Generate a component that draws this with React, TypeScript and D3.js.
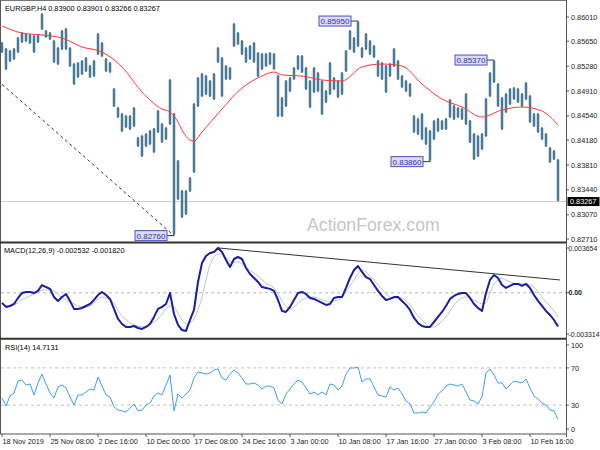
import React from 'react';
import * as d3 from 'd3';

// ---- price bars (H4, compressed) ----
const highs = [
  0.85638, 0.85549, 0.85520, 0.85549, 0.85713, 0.85787, 0.85772, 0.85757, 0.85743, 0.85757,
  0.86069, 0.85817, 0.85787, 0.85668, 0.85564, 0.85817, 0.85847, 0.85564, 0.85326, 0.85341,
  0.85371, 0.85416, 0.85297, 0.85371, 0.85772, 0.85638, 0.85401, 0.85341, 0.84954, 0.84672,
  0.84582, 0.84553, 0.84553, 0.84672, 0.84226, 0.84256, 0.84285, 0.84330, 0.84360, 0.84627,
  0.84434, 0.84375, 0.85088, 0.84582, 0.83884, 0.83438, 0.83438, 0.83631, 0.84731, 0.85118,
  0.85177, 0.85148, 0.85073, 0.85177, 0.85564, 0.85416, 0.85297, 0.85267, 0.85921, 0.85787,
  0.85668, 0.85564, 0.85594, 0.85638, 0.85490, 0.85475, 0.85475, 0.85490, 0.85475, 0.85148,
  0.84821, 0.85073, 0.85118, 0.85267, 0.85446, 0.85446, 0.85267, 0.85073, 0.85267, 0.85192,
  0.85073, 0.84925, 0.85341, 0.85118, 0.85073, 0.85192, 0.85520, 0.85817, 0.85713, 0.85950,
  0.85564, 0.85772, 0.85668, 0.85594, 0.85371, 0.85341, 0.85297, 0.85326, 0.85549, 0.85371,
  0.85148, 0.85073, 0.85028, 0.84553, 0.84508, 0.84582, 0.84375, 0.84330, 0.84479, 0.84508,
  0.84479, 0.84508, 0.84791, 0.84702, 0.84672, 0.84657, 0.84880, 0.84479, 0.84285, 0.84256,
  0.84285, 0.84806, 0.85192, 0.85370, 0.85028, 0.84821, 0.84880, 0.84954, 0.84969, 0.84954,
  0.84880, 0.85043, 0.84851, 0.84582, 0.84582, 0.84375, 0.84285, 0.84077, 0.84033, 0.83901,
];
const lows = [
  0.85475, 0.85222, 0.85341, 0.85371, 0.85475, 0.85623, 0.85638, 0.85609, 0.85475, 0.85623,
  0.85817, 0.85698, 0.85668, 0.85326, 0.85297, 0.85520, 0.85520, 0.85267, 0.84999, 0.85103,
  0.85148, 0.85192, 0.85103, 0.85118, 0.85446, 0.85416, 0.85192, 0.85177, 0.84672, 0.84508,
  0.84300, 0.84360, 0.84330, 0.84375, 0.84077, 0.83929, 0.84077, 0.84107, 0.83988, 0.84285,
  0.84136, 0.84181, 0.84405, 0.82760, 0.83289, 0.83022, 0.83066, 0.83408, 0.83690, 0.84672,
  0.84821, 0.84851, 0.84821, 0.84776, 0.85326, 0.84821, 0.85073, 0.85073, 0.85564, 0.85594,
  0.85446, 0.85326, 0.85371, 0.85326, 0.85118, 0.85222, 0.85267, 0.85297, 0.85222, 0.84523,
  0.84523, 0.84672, 0.84895, 0.85073, 0.85222, 0.85177, 0.84925, 0.84657, 0.84880, 0.84895,
  0.84553, 0.84731, 0.84851, 0.84925, 0.84806, 0.84851, 0.85192, 0.85520, 0.85475, 0.85564,
  0.85401, 0.85520, 0.85446, 0.85401, 0.85118, 0.85073, 0.84880, 0.85118, 0.85267, 0.85073,
  0.84954, 0.84895, 0.84821, 0.84285, 0.84256, 0.84181, 0.84107, 0.83860, 0.84181, 0.84300,
  0.84330, 0.84330, 0.84508, 0.84479, 0.84508, 0.84479, 0.84405, 0.84136, 0.83884, 0.83929,
  0.84033, 0.84226, 0.84821, 0.85028, 0.84672, 0.84330, 0.84582, 0.84702, 0.84776, 0.84731,
  0.84672, 0.84776, 0.84434, 0.84375, 0.84285, 0.84181, 0.84077, 0.83839, 0.83884, 0.83266,
];

// ---- moving average (read at selected bars) ----
const maIdx = [0, 5, 10, 15, 20, 25, 30, 35, 40, 42, 44, 45, 47, 48, 50, 55, 60, 65, 68, 70, 75, 80, 85, 90, 95, 100, 105, 110, 115, 120, 125, 130, 135, 139];
const maVal = [0.85877, 0.85772, 0.85743, 0.85698, 0.85564, 0.85490, 0.85267, 0.84895, 0.84642, 0.84597, 0.84449, 0.84330, 0.84181, 0.84166, 0.84300, 0.84642, 0.84954, 0.85133, 0.85192, 0.85148, 0.85133, 0.85073, 0.85058, 0.85267, 0.85311, 0.85282, 0.85013, 0.84791, 0.84672, 0.84523, 0.84627, 0.84672, 0.84612, 0.84405];

// ---- MACD(12,26,9) ----
const macdMain = [
  -0.00076, -0.00106, -0.00099, -0.00084, -0.00039, -0.00002, 0.00006, 0.00006, -0.00002, 0.00014,
  0.00058, 0.00043, 0.00029, -0.00032, -0.00061, -0.00032, -0.00009, -0.00061, -0.00121, -0.00121,
  -0.00114, -0.00099, -0.00084, -0.00054, -0.00017, 0.00006, -0.00017, -0.00046, -0.00121, -0.00196,
  -0.00234, -0.00256, -0.00256, -0.00249, -0.00264, -0.00271, -0.00256, -0.00234, -0.00181, -0.00121,
  -0.00106, -0.00084, -0.00002, -0.00159, -0.00241, -0.00279, -0.00286, -0.00204, -0.00129, 0.00081,
  0.00223, 0.00276, 0.00298, 0.00306, 0.00336, 0.00306, 0.00246, 0.00193, 0.00253, 0.00268,
  0.00253, 0.00186, 0.00141, 0.00111, 0.00081, 0.00043, 0.00036, 0.00029, 0.00014, -0.00054,
  -0.00136, -0.00144, -0.00106, -0.00054, -0.00002, 0.00006, -0.00009, -0.00039, -0.00046, -0.00061,
  -0.00076, -0.00091, -0.00084, -0.00039, -0.00032, -0.00032, 0.00036, 0.00111, 0.00171, 0.00201,
  0.00156, 0.00118, 0.00103, 0.00058, 0.00014, -0.00024, -0.00054, -0.00046, -0.00032, -0.00032,
  -0.00061, -0.00091, -0.00129, -0.00189, -0.00226, -0.00249, -0.00256, -0.00256, -0.00219, -0.00181,
  -0.00144, -0.00099, -0.00046, -0.00024, -0.00009, -0.00002, -0.00002, -0.00039, -0.00084, -0.00114,
  -0.00136, -0.00002, 0.00096, 0.00133, 0.00111, 0.00058, 0.00036, 0.00051, 0.00066, 0.00066,
  0.00051, 0.00066, 0.00036, -0.00017, -0.00061, -0.00099, -0.00136, -0.00166, -0.00204, -0.002532,
];
const macdSignal = [
  -0.00084, -0.00099, -0.00099, -0.00091, -0.00076, -0.00054, -0.00039, -0.00024, -0.00009, 0.00006,
  0.00021, 0.00021, 0.00021, 0.00013, -0.00009, -0.00039, -0.00054, -0.00069, -0.00084, -0.00099,
  -0.00106, -0.00106, -0.00099, -0.00076, -0.00046, -0.00032, -0.00039, -0.00054, -0.00076, -0.00129,
  -0.00174, -0.00204, -0.00226, -0.00241, -0.00249, -0.00256, -0.00249, -0.00234, -0.00219, -0.00196,
  -0.00159, -0.00121, -0.00099, -0.00106, -0.00151, -0.00204, -0.00234, -0.00226, -0.00196, -0.00129,
  -0.00032, 0.00096, 0.00208, 0.00268, 0.00291, 0.00291, 0.00261, 0.00238, 0.00231, 0.00231,
  0.00216, 0.00193, 0.00171, 0.00148, 0.00126, 0.00096, 0.00073, 0.00058, 0.00036, -0.00009,
  -0.00061, -0.00099, -0.00121, -0.00106, -0.00076, -0.00054, -0.00039, -0.00032, -0.00032, -0.00039,
  -0.00054, -0.00061, -0.00069, -0.00061, -0.00054, -0.00032, 0.00006, 0.00051, 0.00096, 0.00141,
  0.00171, 0.00156, 0.00126, 0.00096, 0.00058, 0.00029, -0.00009, -0.00032, -0.00039, -0.00039,
  -0.00039, -0.00061, -0.00091, -0.00136, -0.00174, -0.00204, -0.00234, -0.00256, -0.00256, -0.00241,
  -0.00211, -0.00181, -0.00136, -0.00091, -0.00061, -0.00039, -0.00032, -0.00039, -0.00054, -0.00069,
  -0.00084, -0.00076, -0.00002, 0.00066, 0.00096, 0.00111, 0.00096, 0.00081, 0.00073, 0.00066,
  0.00066, 0.00066, 0.00058, 0.00043, 0.00006, -0.00032, -0.00069, -0.00099, -0.00136, -0.00182,
];

// ---- RSI(14) ----
const rsi = [
  37.6, 29.0, 39.8, 43.0, 55.9, 57.0, 51.6, 52.7, 40.9, 53.8,
  63.4, 52.7, 43.0, 37.6, 49.5, 51.6, 48.4, 38.7, 30.1, 40.9,
  40.9, 44.1, 47.3, 46.2, 60.2, 50.5, 40.9, 38.7, 28.0, 24.7,
  23.7, 22.6, 26.9, 31.2, 23.7, 24.7, 30.1, 32.3, 39.8, 43.0,
  40.9, 51.6, 62.4, 23.7, 41.9, 37.6, 41.9, 46.2, 59.1, 65.6,
  64.5, 63.4, 64.5, 67.7, 68.8, 59.1, 57.0, 63.4, 67.7, 64.5,
  59.1, 52.7, 52.7, 53.8, 51.6, 47.3, 50.5, 50.5, 48.4, 35.5,
  31.2, 41.9, 47.3, 52.7, 57.0, 54.8, 48.4, 41.9, 44.1, 40.9,
  44.1, 40.9, 52.7, 51.6, 46.2, 50.5, 63.4, 69.9, 69.9, 71.0,
  54.8, 58.1, 58.1, 49.5, 40.9, 39.8, 38.7, 49.5, 46.2, 48.4,
  41.9, 34.4, 31.2, 21.5, 21.5, 22.6, 21.5, 28.0, 33.3, 41.9,
  45.2, 50.5, 52.7, 51.6, 50.5, 52.7, 44.1, 35.5, 34.4, 31.2,
  38.7, 64.5, 68.8, 62.4, 53.8, 53.8, 47.3, 51.6, 55.9, 54.8,
  53.8, 58.1, 48.4, 39.8, 36.6, 32.3, 30.1, 24.7, 23.7, 14.7131,
];

// ---- axes ----
const timeLabels = ['18 Nov 2019', '25 Nov 08:00', '2 Dec 16:00', '10 Dec 00:00', '17 Dec 08:00', '24 Dec 16:00', '3 Jan 00:00', '10 Jan 08:00', '17 Jan 16:00', '27 Jan 00:00', '3 Feb 08:00', '10 Feb 16:00'];
const barsPerLabel = 12;
const priceTicks = [0.8601, 0.8565, 0.8528, 0.8491, 0.8454, 0.8418, 0.8381, 0.8344, 0.8307, 0.8271];
const macdTicks = [0.003654, 0, -0.003314];
const macdTickLabels = ['0.003654', '0.00', '-0.003314'];
const rsiTicks = [100, 70, 30, 0];
const rsiLevels = [70, 30];

// ---- annotations ----
const peakIdx = [43, 89, 107, 123];
const peakPrice = [0.8276, 0.8595, 0.8386, 0.8537];
const mainTrend = [[0, 0.8501], [43, 0.8276]];
const macdTrend = [[54, 0.00336], [139.5, 0.00096]];
const lastPrice = 0.83267;
const ohlc = [0.839, 0.83901, 0.83266, 0.83267];

const FONT = "'Liberation Sans', Arial, sans-serif";

export default function App() {
  const W = 600, H = 450;
  const L = 1, R = 566;
  const mainTop = 1, mainBot = 241;
  const macdTop = 243.5, macdBot = 338;
  const rsiTop = 339.5, rsiBot = 434;

  const x = d3.scaleLinear().domain([0, 139]).range([2, 558]);
  const yP = d3.scaleLinear().domain([0.8271, 0.8601]).range([239, 17]);
  const yM = d3.scaleLinear().domain([-0.003314, 0.003654]).range([337, 244]);
  const yR = d3.scaleLinear().domain([0, 100]).range([433, 340]);

  const maLine = d3.line<number>().x((_, k) => x(maIdx[k])).y(d => yP(d)).curve(d3.curveMonotoneX)(maVal) || '';
  const macdLine = d3.line<number>().x((_, i) => x(i)).y(d => yM(d))(macdMain) || '';
  const sigLine = d3.line<number>().x((_, i) => x(i)).y(d => yM(d)).curve(d3.curveMonotoneX)(macdSignal) || '';
  const rsiLine = d3.line<number>().x((_, i) => x(i)).y(d => yR(d))(rsi) || '';

  const fmt5 = d3.format('.5f');
  const small = 7.3;

  return (
    <svg width={W} height={H} style={{ position: 'absolute', left: 0, top: 0, background: '#fff' }} fontFamily={FONT}>
      <defs>
        <clipPath id="cMain"><rect x={L} y={mainTop} width={R - L} height={mainBot - mainTop} /></clipPath>
        <clipPath id="cMacd"><rect x={L} y={macdTop} width={R - L} height={macdBot - macdTop} /></clipPath>
        <clipPath id="cRsi"><rect x={L} y={rsiTop} width={R - L} height={rsiBot - rsiTop} /></clipPath>
      </defs>
      <rect x={0} y={0} width={W} height={H} fill="#fff" />

      {/* ===== main panel ===== */}
      <g clipPath="url(#cMain)">
        <line x1={L} x2={R} y1={yP(lastPrice)} y2={yP(lastPrice)} stroke="#cfcfcf" strokeWidth={1} />
        <text x={307} y={231} fontSize={17.7} fill="#c6c6c6">ActionForex.com</text>
        <line x1={x(mainTrend[0][0])} y1={yP(mainTrend[0][1])} x2={x(mainTrend[1][0])} y2={yP(mainTrend[1][1])}
          stroke="#333" strokeWidth={1} strokeDasharray="3,3" />
        {highs.map((h, i) => (
          <rect key={'b' + i} x={x(i) - 1.4} y={yP(h) + 1} width={2.8} height={Math.max(1, yP(lows[i]) - yP(h) - 2)} fill="#89aabe" />
        ))}
        {highs.map((h, i) => (
          <line key={'l' + i} x1={x(i)} x2={x(i)} y1={yP(h)} y2={yP(lows[i])} stroke="#2a5f7c" strokeWidth={1.3} />
        ))}
        <path d={maLine} fill="none" stroke="#ff3b3b" strokeWidth={1} />
        {peakIdx.map((pi, k) => {
          const px = x(pi), py = yP(peakPrice[k]);
          const bw = 32, bh = 10, bx = px - 7 - bw;
          return (
            <g key={'pk' + k}>
              <line x1={bx + bw} x2={px} y1={py} y2={py} stroke="#2b2b8f" strokeWidth={1} />
              <rect x={bx} y={py - bh / 2} width={bw} height={bh} fill="#dcdcf6" stroke="#5050c0" strokeWidth={1} />
              <text x={bx + bw / 2} y={py + 3} fontSize={8} textAnchor="middle" fill="#3030a8">{fmt5(peakPrice[k])}</text>
            </g>
          );
        })}
      </g>
      <text x={5} y={11} fontSize={small} fill="#000">
        {'EURGBP,H4  ' + ohlc.map(v => fmt5(v)).join(' ')}
      </text>

      {/* ===== MACD panel ===== */}
      <g clipPath="url(#cMacd)">
        <line x1={L} x2={R} y1={yM(0)} y2={yM(0)} stroke="#b8b8b8" strokeDasharray="3,3" />
        <path d={sigLine} fill="none" stroke="#c4c4c4" strokeWidth={1} />
        <path d={macdLine} fill="none" stroke="#1c1ca0" strokeWidth={2} strokeLinejoin="round" />
        <line x1={x(macdTrend[0][0])} y1={yM(macdTrend[0][1])} x2={x(macdTrend[1][0])} y2={yM(macdTrend[1][1])} stroke="#333" strokeWidth={1} />
      </g>
      <text x={4} y={252.5} fontSize={small} fill="#000">
        {'MACD(12,26,9) ' + macdMain[macdMain.length - 1].toFixed(6) + ' ' + macdSignal[macdSignal.length - 1].toFixed(6)}
      </text>

      {/* ===== RSI panel ===== */}
      <g clipPath="url(#cRsi)">
        {rsiLevels.map(l => (
          <line key={'lv' + l} x1={L} x2={R} y1={yR(l)} y2={yR(l)} stroke="#c0c0c0" strokeDasharray="3,3" />
        ))}
        <path d={rsiLine} fill="none" stroke="#3f9cf5" strokeWidth={1} />
      </g>
      <text x={5} y={350} fontSize={small} fill="#000">{'RSI(14) ' + rsi[rsi.length - 1].toFixed(4)}</text>

      {/* ===== frames ===== */}
      <line x1={L} x2={R} y1={0.5} y2={0.5} stroke="#777" />
      <line x1={0.5} x2={0.5} y1={0} y2={rsiBot} stroke="#555" />
      <line x1={0} x2={R} y1={242.5} y2={242.5} stroke="#333" strokeWidth={2} />
      <line x1={0} x2={R} y1={338.8} y2={338.8} stroke="#333" strokeWidth={2} />
      <line x1={0} x2={R} y1={rsiBot} y2={rsiBot} stroke="#555" />
      <line x1={R + 0.5} x2={R + 0.5} y1={0} y2={rsiBot + 3} stroke="#555" />

      {/* price axis */}
      {priceTicks.map(t => (
        <g key={'pt' + t}>
          <line x1={R} x2={R + 3} y1={yP(t)} y2={yP(t)} stroke="#555" />
          <text x={571} y={yP(t) + 2.6} fontSize={small} fill="#222">{fmt5(t)}</text>
        </g>
      ))}
      <rect x={567.5} y={yP(lastPrice) - 4.5} width={32} height={9} fill="#000" />
      <text x={570} y={yP(lastPrice) + 2.6} fontSize={small} fill="#fff">{fmt5(lastPrice)}</text>

      {/* MACD axis */}
      {macdTicks.map((t, k) => {
        const yy = k === 0 ? yM(t) + 4 : k === 2 ? yM(t) - 3 : yM(t);
        return (
          <g key={'mt' + k}>
            <line x1={R} x2={R + 3} y1={yy} y2={yy} stroke="#555" />
            <text x={568.5} y={yy + 2.5} fontSize={6.9} fill="#222" fontWeight={k === 1 ? 'bold' : 'normal'}>{macdTickLabels[k]}</text>
          </g>
        );
      })}

      {/* RSI axis */}
      {rsiTicks.map(t => {
        const yy = t === 100 ? yR(t) + 5 : t === 0 ? yR(t) - 4 : yR(t);
        return (
          <g key={'rt' + t}>
            <line x1={R} x2={R + 3} y1={yy} y2={yy} stroke="#555" />
            <text x={571} y={yy + 2.6} fontSize={small} fill="#222">{t}</text>
          </g>
        );
      })}

      {/* time axis */}
      {timeLabels.map((lab, k) => {
        const tx = x(k * barsPerLabel);
        return (
          <g key={'tl' + k}>
            <line x1={tx} x2={tx} y1={rsiBot} y2={rsiBot + 3} stroke="#555" />
            <text x={tx + 0.5} y={444} fontSize={small} fill="#222">{lab}</text>
          </g>
        );
      })}
    </svg>
  );
}
